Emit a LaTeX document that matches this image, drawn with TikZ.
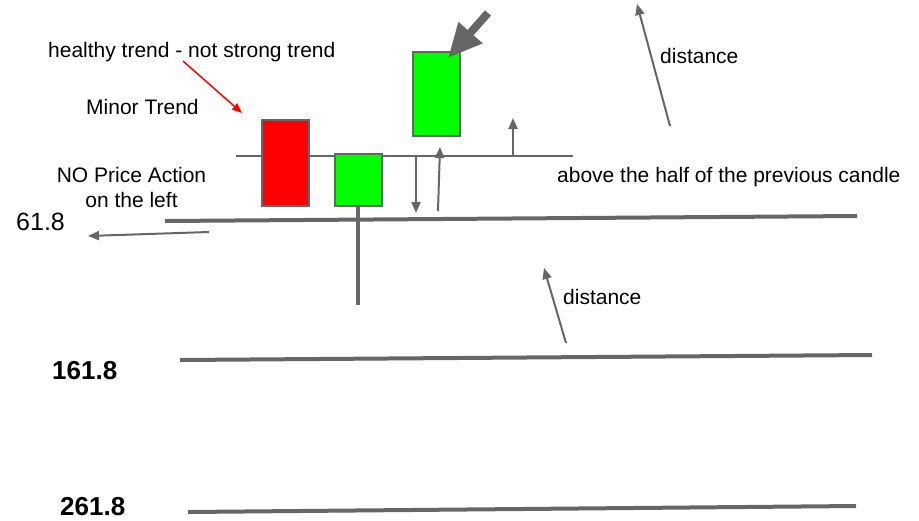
\documentclass[tikz,border=0pt]{standalone}
\usepackage{fontspec}
\setmainfont{Liberation Sans}
\usetikzlibrary{arrows.meta}
\definecolor{grisLinea}{HTML}{666666}
\definecolor{verdeVela}{HTML}{00FF00}
\definecolor{rojoVela}{HTML}{FF0000}

\begin{document}
\begin{tikzpicture}[x=1pt,y=-1pt,
    candle/.style={draw=grisLinea,line width=2pt,minimum width=47pt,inner sep=0pt},
    lbl/.style={inner sep=0pt,anchor=base west,font=\fontsize{21}{25}\selectfont},
    level/.style={grisLinea,line width=4pt},
    pointer/.style={-{Triangle[length=11pt,width=9pt]},grisLinea,line width=2pt}]
    \useasboundingbox (0,0) rectangle (919,520);
    \coordinate (halfL) at (236,156);
    \coordinate (halfR) at (573,156);
    \draw[grisLinea,line width=2pt] (halfL) -- (halfR);
    \node[candle,fill=rojoVela,minimum height=86pt] (bear) at (285.5,163) {};
    \node[candle,fill=verdeVela,minimum height=52pt] (bullA) at (358,180) {};
    \node[candle,fill=verdeVela,minimum height=84pt] (bullB) at (436,94) {};
    \coordinate (wickEnd) at (358,305);
    \draw[grisLinea,line width=4pt] (bullA.south) -- (wickEnd);
    \coordinate (fibAL) at (165,221);
    \coordinate (fibAR) at (857,216);
    \coordinate (fibBL) at (180,360);
    \coordinate (fibBR) at (872,355);
    \coordinate (fibCL) at (188,512);
    \coordinate (fibCR) at (856,506);
    \draw[level] (fibAL) -- (fibAR);
    \draw[level] (fibBL) -- (fibBR);
    \draw[level] (fibCL) -- (fibCR);
    \node[lbl] (healthy) at (48,57) {healthy trend - not strong trend};
    \node[lbl] (minor) at (86,114) {Minor Trend};
    \node[lbl,anchor=base,align=center] (noPA) at (131.5,207) {NO Price Action\\on the left};
    \node[lbl,font=\fontsize{25}{30}\selectfont] (fibA) at (16,230) {61.8};
    \node[lbl,font=\fontsize{26}{30}\selectfont\bfseries] (fibB) at (52,379) {161.8};
    \node[lbl,font=\fontsize{26}{30}\selectfont\bfseries] (fibC) at (60,515) {261.8};
    \node[lbl] (above) at (557,182) {above the half of the previous candle};
    \node[lbl] (distUp) at (660,63) {distance};
    \node[lbl] (distLow) at (563,304) {distance};
    \coordinate (redTail) at (183,61);
    \coordinate (redTip) at (242,113);
    \draw[-{Triangle[length=10pt,width=8pt]},rojoVela,line width=1.5pt] (redTail) -- (redTip);
    \coordinate (bigTail) at (488,13);
    \coordinate (bigTip) at (448,58);
    \draw[-{Triangle[length=34pt,width=30pt]},grisLinea,line width=8pt] (bigTail) -- (bigTip);
    \coordinate (downTop) at (416,156);
    \coordinate (downTip) at (416,213);
    \coordinate (upFoot) at (438,211);
    \coordinate (upTip) at (440,147);
    \coordinate (smallTip) at (513,118);
    \coordinate (smallFoot) at (513,156);
    \draw[pointer] (downTop) -- (downTip);
    \draw[pointer] (upFoot) -- (upTip);
    \draw[pointer] (smallFoot) -- (smallTip);
    \coordinate (leftTail) at (209,232);
    \coordinate (leftTip) at (88,236);
    \draw[pointer] (leftTail) -- (leftTip);
    \coordinate (distUpTail) at (670,126);
    \coordinate (distUpTip) at (637,4);
    \draw[pointer] (distUpTail) -- (distUpTip);
    \coordinate (distLowTail) at (566,343);
    \coordinate (distLowTip) at (544,268);
    \draw[pointer] (distLowTail) -- (distLowTip);
  \end{tikzpicture}
\end{document}
